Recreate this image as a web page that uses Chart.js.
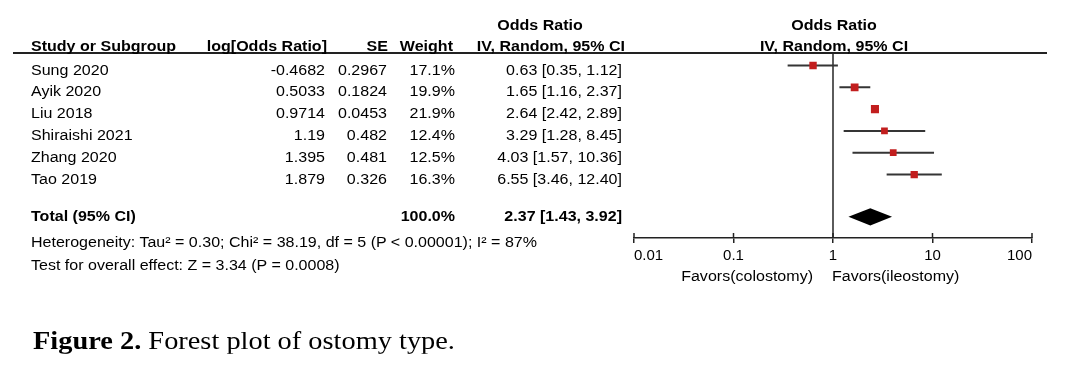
<!DOCTYPE html>
<html><head><meta charset="utf-8">
<script src="https://cdn.jsdelivr.net/npm/chart.js@4/dist/chart.umd.min.js"></script>
<style>
html,body{margin:0;padding:0;background:#fff;}
#wrap{position:relative;width:1092px;height:382px;overflow:hidden;background:#fff;}
#c{position:absolute;left:0;top:0;}
.t{position:absolute;white-space:nowrap;font-family:'Liberation Sans',Arial,sans-serif;font-size:14px;line-height:14px;color:#000;}
.b{font-weight:bold;}
.L{transform:translate(0,-50%) scaleX(1.145);transform-origin:0 50%;}
.R{transform:translate(-100%,-50%) scaleX(1.145);transform-origin:100% 50%;}
.C{transform:translate(-50%,-50%) scaleX(1.145);transform-origin:50% 50%;}
.cap{position:absolute;white-space:nowrap;font-family:'Liberation Serif','Times New Roman',serif;font-size:25px;line-height:25px;color:#000;transform:translate(0,-50%) scaleX(1.135);transform-origin:0 50%;}
#hline{position:absolute;left:13px;top:52px;width:1034px;height:2px;background:#222;}
</style></head><body>
<div id="wrap"><canvas id="c" width="1092" height="382"></canvas><div id="hline"></div></div>
<script>
// ---------- data ----------
const studies   = ['Sung 2020','Ayik 2020','Liu 2018','Shiraishi 2021','Zhang 2020','Tao 2019'];
const logOR     = ['-0.4682','0.5033','0.9714','1.19','1.395','1.879'];
const seValues  = ['0.2967','0.1824','0.0453','0.482','0.481','0.326'];
const weights   = [17.1, 19.9, 21.9, 12.4, 12.5, 16.3];
const oddsRatio = [0.63, 1.65, 2.64, 3.29, 4.03, 6.55];
const ciLower   = [0.35, 1.16, 2.42, 1.28, 1.57, 3.46];
const ciUpper   = [1.12, 2.37, 2.89, 8.45, 10.36, 12.40];
const totalOR   = 2.37;
const totalLower = 1.43;
const totalUpper = 3.92;
const totalWeight = 100.0;
const nullValue = 1;
const tickValues = [0.01, 0.1, 1, 10, 100];
const tickLabels = ['0.01', '0.1', '1', '10', '100'];
const heterogeneityText = 'Heterogeneity: Tau² = 0.30; Chi² = 38.19, df = 5 (P < 0.00001); I² = 87%';
const overallText = 'Test for overall effect: Z = 3.34 (P = 0.0008)';
const favorLeft = 'Favors(colostomy)';
const favorRight = 'Favors(ileostomy)';

// ---------- layout ----------
const totalRow = 6.94;
const yMin = -0.56, yMax = 7.91;
const diamondHalf = 0.40;
const fmt2 = v => v.toFixed(2);

const forestPlugin = {
  id: 'forest',
  beforeDatasetsDraw(chart) {
    const {ctx, chartArea, scales} = chart;
    const px = scales.x.getPixelForValue(nullValue);
    ctx.save();
    ctx.strokeStyle = '#333';
    ctx.lineWidth = 1.6;
    ctx.beginPath();
    ctx.moveTo(px, chartArea.top);
    ctx.lineTo(px, chartArea.bottom);
    ctx.stroke();
    ctx.restore();
  },
  afterDatasetsDraw(chart) {
    const {ctx, chartArea, scales} = chart;
    const x = scales.x, y = scales.y;
    ctx.save();
    // diamond for pooled estimate
    const xl = x.getPixelForValue(totalLower), xm = x.getPixelForValue(totalOR), xr = x.getPixelForValue(totalUpper);
    const yc = y.getPixelForValue(totalRow), yt = y.getPixelForValue(totalRow - diamondHalf), yb = y.getPixelForValue(totalRow + diamondHalf);
    ctx.fillStyle = '#000';
    ctx.beginPath();
    ctx.moveTo(xl, yc); ctx.lineTo(xm, yt); ctx.lineTo(xr, yc); ctx.lineTo(xm, yb); ctx.closePath();
    ctx.fill();
    // upper half of axis tick marks
    ctx.strokeStyle = '#222';
    ctx.lineWidth = 1.5;
    tickValues.forEach(v => {
      const p = x.getPixelForValue(v);
      ctx.beginPath();
      ctx.moveTo(p, chartArea.bottom - 5);
      ctx.lineTo(p, chartArea.bottom);
      ctx.stroke();
    });
    ctx.restore();
  }
};

const ciSets = studies.map((s, i) => ({
  type: 'line',
  label: s,
  data: [{x: ciLower[i], y: i}, {x: ciUpper[i], y: i}],
  borderColor: '#353535',
  borderWidth: 2,
  pointRadius: 0,
  fill: false,
  order: 1
}));
const squareSet = {
  type: 'scatter',
  label: 'OR',
  data: oddsRatio.map((v, i) => ({x: v, y: i})),
  pointStyle: 'rect',
  pointRadius: weights.map(w => (5 + 0.14 * w) / 1.414),
  backgroundColor: '#c21e1e',
  borderWidth: 0,
  order: 0
};

const chart = new Chart(document.getElementById('c'), {
  type: 'scatter',
  data: {datasets: [squareSet, ...ciSets]},
  options: {
    responsive: false,
    animation: false,
    devicePixelRatio: 1,
    layout: {padding: {left: 634, right: 60, top: 53.3, bottom: 0}},
    plugins: {legend: {display: false}, tooltip: {enabled: false}},
    scales: {
      x: {
        type: 'logarithmic', position: 'bottom', min: 0.01, max: 100,
        afterBuildTicks: s => { s.ticks = tickValues.map(v => ({value: v})); },
        afterFit: s => { s.height = 382 - 238; },
        grid: {display: true, drawOnChartArea: false, drawTicks: true, tickLength: 5, color: '#222', lineWidth: 1.5},
        border: {display: true, color: '#222', width: 1.5},
        ticks: {
          align: 'inner', padding: 4, color: '#000', autoSkip: false, maxRotation: 0,
          font: {family: 'Liberation Sans', size: 15},
          callback: (v, i) => tickLabels[i]
        }
      },
      y: {type: 'linear', reverse: true, min: yMin, max: yMax, display: false}
    }
  },
  plugins: [forestPlugin]
});

// ---------- table text ----------
const wrap = document.getElementById('wrap');
function addText(txt, x, y, cls) {
  const d = document.createElement('div');
  d.className = 't ' + cls;
  d.style.left = x + 'px';
  d.style.top = y + 'px';
  d.textContent = txt;
  wrap.appendChild(d);
  return d;
}
// headers
addText('Odds Ratio', 540, 25, 'C b');
addText('Odds Ratio', 834, 25, 'C b');
addText('Study or Subgroup', 31, 46, 'L b');
addText('log[Odds Ratio]', 327, 46, 'R b');
addText('SE', 388, 46, 'R b');
addText('Weight', 453, 46, 'R b');
addText('IV, Random, 95% CI', 625, 46, 'R b');
addText('IV, Random, 95% CI', 834, 46, 'C b');

const ys = chart.scales.y;
studies.forEach((s, i) => {
  const ty = ys.getPixelForValue(i) + 4;
  addText(s, 31, ty, 'L');
  addText(logOR[i], 325, ty, 'R');
  addText(seValues[i], 387, ty, 'R');
  addText(weights[i].toFixed(1) + '%', 455, ty, 'R');
  addText(fmt2(oddsRatio[i]) + ' [' + fmt2(ciLower[i]) + ', ' + fmt2(ciUpper[i]) + ']', 622, ty, 'R');
});
const totY = ys.getPixelForValue(totalRow) - 0.5;
addText('Total (95% CI)', 31, totY, 'L b');
addText(totalWeight.toFixed(1) + '%', 455, totY, 'R b');
addText(fmt2(totalOR) + ' [' + fmt2(totalLower) + ', ' + fmt2(totalUpper) + ']', 622, totY, 'R b');
addText(heterogeneityText, 31, 242, 'L');
addText(overallText, 31, 265, 'L');

const xs = chart.scales.x;
addText(favorLeft, xs.getPixelForValue(nullValue) - 20, 276, 'R');
addText(favorRight, xs.getPixelForValue(nullValue) - 1, 276, 'L');

const cap = document.createElement('div');
cap.className = 'cap';
cap.style.left = '33px';
cap.style.top = '340px';
cap.innerHTML = '<b>Figure 2.</b> Forest plot of ostomy type.';
wrap.appendChild(cap);
</script>
</body></html>
